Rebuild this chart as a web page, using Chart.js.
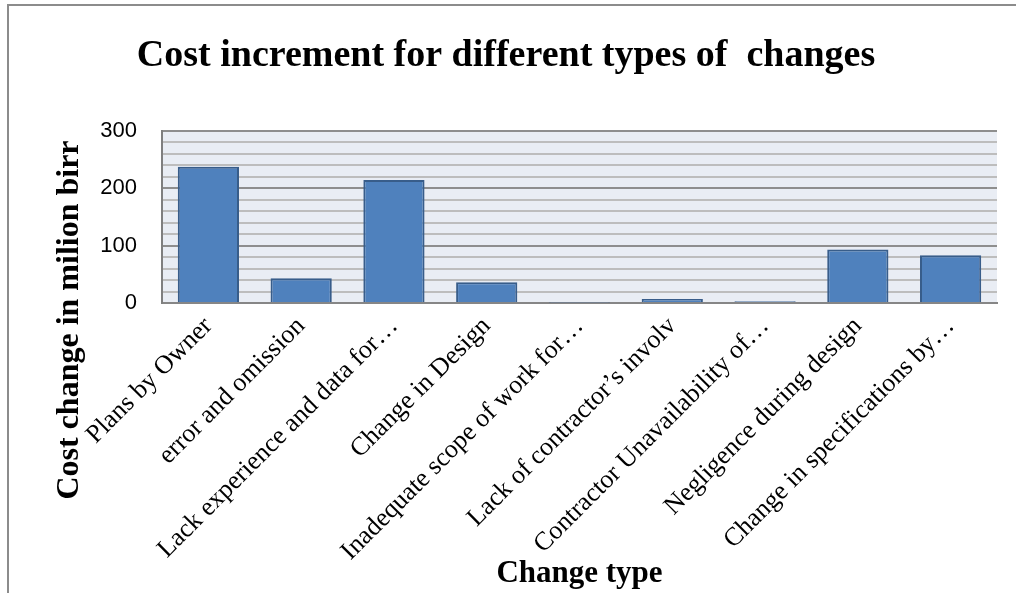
<!DOCTYPE html>
<html>
<head>
<meta charset="utf-8">
<script src="https://cdn.jsdelivr.net/npm/chart.js@4/dist/chart.umd.min.js"></script>
<style>
  html, body { margin: 0; padding: 0; background: #ffffff; }
  #wrap { position: relative; width: 1016px; height: 593px; }
  #frame {
    position: absolute; left: 7px; top: 4px; right: 0; bottom: 0;
    border-left: 2px solid #8c8c8c; border-top: 2px solid #8c8c8c;
    pointer-events: none;
  }
  canvas { position: absolute; left: 0; top: 0; }
</style>
</head>
<body>
<div id="wrap">
  <canvas id="chart" width="1016" height="593"></canvas>
  <div id="frame"></div>
</div>
<script>
// Change categories (long names are shortened with an ellipsis)
const categories = [
  "Plans by Owner",
  "error and omission",
  "Lack experience and data for\u2026",
  "Change in Design",
  "Inadequate scope of work for\u2026",
  "Lack of contractor\u2019s involv",
  "Contractor Unavailability of\u2026",
  "Negligence during design",
  "Change in specifications by\u2026"
];

// Cost change per category, million birr
const costValues = [237, 43, 214, 36, 1, 7, 3, 93, 83];

// Labelled values on the vertical axis
const yTickLabels = [0, 100, 200, 300];

const chartTitle = "Cost increment for different types of  changes";
const xAxisTitle = "Change type";
const yAxisTitle = "Cost change in milion birr";

const serif = "'Liberation Serif', 'Times New Roman', serif";
const sans = "'Liberation Sans', Arial, sans-serif";

// Shaded plot background
const plotBackground = {
  id: "plotBackground",
  beforeDraw(chart) {
    const { ctx, chartArea: a } = chart;
    ctx.save();
    ctx.fillStyle = "#e9edf4";
    ctx.fillRect(a.left, a.top, a.right - a.left, a.bottom - a.top);
    ctx.restore();
  }
};

// Vertical axis caption, placed in the left margin
const yCaption = {
  id: "yCaption",
  afterDraw(chart) {
    const { ctx } = chart;
    ctx.save();
    ctx.translate(70, 320);
    ctx.rotate(-Math.PI / 2);
    ctx.font = "bold 32px " + serif;
    ctx.fillStyle = "#000000";
    ctx.textAlign = "center";
    ctx.textBaseline = "middle";
    ctx.fillText(yAxisTitle, 0, 0);
    ctx.restore();
  }
};

new Chart(document.getElementById("chart"), {
  type: "bar",
  data: {
    labels: categories,
    datasets: [{
      data: costValues,
      backgroundColor: "#4f81bd",
      borderColor: "#385d8a",
      borderWidth: 2,
      categoryPercentage: 1.0,
      barPercentage: 0.66
    }]
  },
  options: {
    responsive: false,
    animation: false,
    layout: { padding: { left: 15, right: 19, top: 0, bottom: 0 } },
    plugins: {
      legend: { display: false },
      tooltip: { enabled: false },
      title: {
        display: true,
        text: chartTitle,
        color: "#000000",
        font: { family: serif, size: 38, weight: "bold" },
        padding: { top: 33, bottom: 52 }
      }
    },
    scales: {
      x: {
        grid: { display: false, drawTicks: false },
        border: { display: true, color: "#868686", width: 2 },
        ticks: {
          autoSkip: false,
          minRotation: 45,
          maxRotation: 45,
          padding: 8,
          color: "#000000",
          font: { family: serif, size: 26 }
        },
        title: {
          display: true,
          text: xAxisTitle,
          color: "#000000",
          font: { family: serif, size: 31, weight: "bold" },
          padding: { top: 0, bottom: 0 }
        },
        afterFit(scale) { scale.height = 290; }
      },
      y: {
        min: 0,
        max: 300,
        grid: {
          drawTicks: false,
          lineWidth: 2,
          color: (c) => (c.tick && c.tick.value % 100 === 0) ? "#8e8e8e" : "#bdbdbd"
        },
        border: { display: true, color: "#7f7f7f", width: 2 },
        ticks: {
          stepSize: 20,
          autoSkip: false,
          padding: 25,
          color: "#000000",
          font: { family: sans, size: 22 },
          callback: (v) => yTickLabels.includes(v) ? String(v) : ""
        },
        afterFit(scale) { scale.width = 147; }
      }
    }
  },
  plugins: [plotBackground, yCaption]
});
</script>
</body>
</html>
